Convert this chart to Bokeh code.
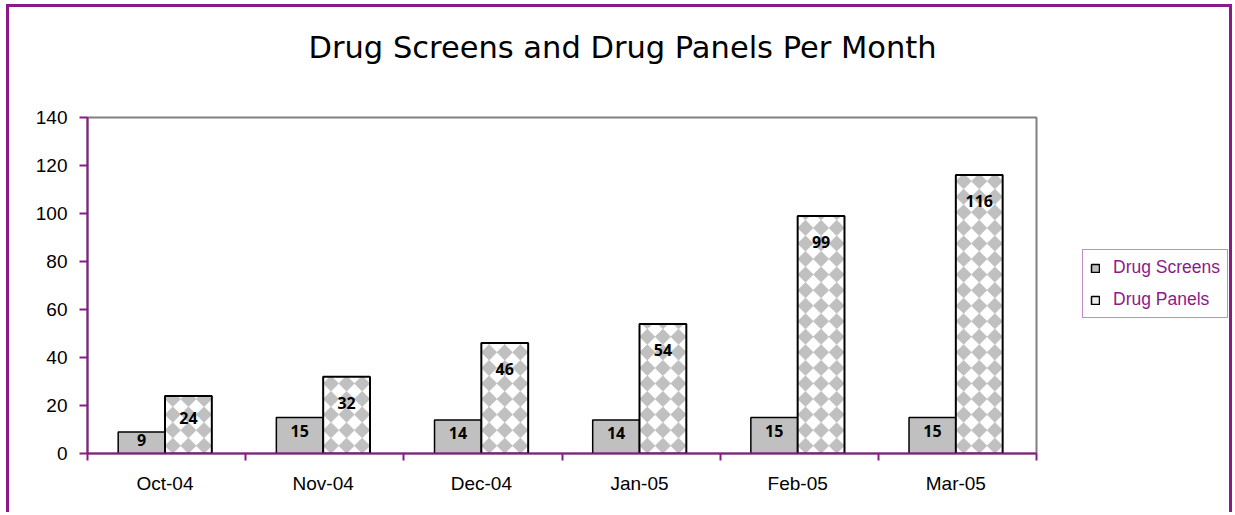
from bokeh.plotting import figure
from bokeh.layouts import row
from bokeh.models import (ColumnDataSource, FixedTicker, Legend, LegendItem, Range1d, Title)
from bokeh.core.properties import value
from bokeh.embed import file_html
from bokeh.resources import INLINE

# Monthly counts
months = ["Oct-04", "Nov-04", "Dec-04", "Jan-05", "Feb-05", "Mar-05"]
drug_screens = [9, 15, 14, 14, 15, 15]
drug_panels = [24, 32, 46, 54, 99, 116]
y_ticks = [0, 20, 40, 60, 80, 100, 120, 140]

PURPLE = "#8B1A89"
GREY = "#C0C0C0"
BAR_W = 0.296
Y_MAX = 140
EDGE = f"3px solid {PURPLE}"

# chart geometry in pixels
FRAME_W, FRAME_H = 949, 337
BORDER_L, BORDER_R, BORDER_T, BORDER_B = 78, 10, 109, 62
CHART_W = BORDER_L + FRAME_W + BORDER_R
CHART_H = BORDER_T + FRAME_H + BORDER_B
KEY_W = 189

centers = [i + 0.49 for i in range(len(months))]
screens_x = [c - BAR_W / 2 for c in centers]
panels_x = [c + BAR_W / 2 for c in centers]


def label_y(v):
    # value labels sit inside the top of each bar
    return max(v - 10.8, v * 0.62)


def clip_rect(poly, x0, x1, y0, y1):
    """Sutherland-Hodgman clip of a convex polygon to a rectangle."""
    def ix(xc):
        return lambda a, b: (xc, a[1] + (b[1] - a[1]) * (xc - a[0]) / (b[0] - a[0]))

    def iy(yc):
        return lambda a, b: (a[0] + (b[0] - a[0]) * (yc - a[1]) / (b[1] - a[1]), yc)

    edges = [(lambda q: q[0] >= x0, ix(x0)), (lambda q: q[0] <= x1, ix(x1)),
             (lambda q: q[1] >= y0, iy(y0)), (lambda q: q[1] <= y1, iy(y1))]
    pts = poly
    for inside, inter in edges:
        if not pts:
            break
        out = []
        for i in range(len(pts)):
            cur, prev = pts[i], pts[i - 1]
            if inside(cur):
                if not inside(prev):
                    out.append(inter(prev, cur))
                out.append(cur)
            elif inside(prev):
                out.append(inter(prev, cur))
        pts = out
    return pts


def checker_patches(xs, tops, width):
    """Grey diamond checker filling each bar, clipped to the bar outline."""
    dx = width / 3
    px_per_x = FRAME_W / len(months)
    dy = dx * px_per_x / (FRAME_H / Y_MAX)
    pxs, pys = [], []
    for xc, top in zip(xs, tops):
        x0, x1 = xc - width / 2, xc + width / 2
        j = 0
        while j * dy < top:
            cy = (j + 0.5) * dy
            for k in range(3):
                cx = x0 + (k + 0.5) * dx
                d = [(cx, cy - dy / 2), (cx + dx / 2, cy), (cx, cy + dy / 2), (cx - dx / 2, cy)]
                c = clip_rect(d, x0, x1, 0, top)
                if len(c) >= 3:
                    pxs.append([q[0] for q in c])
                    pys.append([q[1] for q in c])
            j += 1
    return pxs, pys


src_screens = ColumnDataSource(dict(x=screens_x, top=drug_screens,
                                    ly=[label_y(v) for v in drug_screens],
                                    txt=[str(v) for v in drug_screens]))
src_panels = ColumnDataSource(dict(x=panels_x, top=drug_panels,
                                   ly=[label_y(v) for v in drug_panels],
                                   txt=[str(v) for v in drug_panels]))

p = figure(width=CHART_W, height=CHART_H, output_backend="svg", toolbar_location=None,
           x_range=Range1d(0, len(months)), y_range=Range1d(0, Y_MAX),
           min_border_left=BORDER_L, min_border_right=BORDER_R,
           min_border_top=BORDER_T, min_border_bottom=BORDER_B)
p.title = None
p.styles = {"border-left": EDGE, "border-top": EDGE}
p.background_fill_color = "white"
p.border_fill_color = "white"
p.outline_line_color = "#808080"
p.outline_line_width = 2
p.xgrid.visible = False
p.ygrid.visible = False

# heading, held clear of the plot area by an empty spacer line
p.add_layout(Title(text=" ", text_font_size="1px", standoff=30), "above")
p.add_layout(Title(text="Drug Screens and Drug Panels Per Month", align="left",
                   offset=221, standoff=40, text_font="DejaVu Sans",
                   text_font_size="30.5px", text_font_style="normal",
                   text_color="black"), "above")

r_screens = p.vbar(x="x", top="top", bottom=0, width=BAR_W, source=src_screens,
                   fill_color=GREY, line_color="black", line_width=1.5)
p.vbar(x="x", top="top", bottom=0, width=BAR_W, source=src_panels,
       fill_color="white", line_color=None)
chk_x, chk_y = checker_patches(panels_x, drug_panels, BAR_W)
p.patches(chk_x, chk_y, fill_color=GREY, line_color=GREY, line_width=0.5)
p.vbar(x="x", top="top", bottom=0, width=BAR_W, source=src_panels,
       fill_color=None, line_color="black", line_width=2)

for src in (src_screens, src_panels):
    p.text(x="x", y="ly", text="txt", source=src, text_align="center",
           text_baseline="middle", text_font=value("Noto Sans"),
           text_font_size="16px", text_font_style="bold", text_color="black")

# y axis
p.yaxis.ticker = FixedTicker(ticks=y_ticks)
p.yaxis.axis_line_color = PURPLE
p.yaxis.axis_line_width = 2
p.yaxis.major_tick_line_color = PURPLE
p.yaxis.major_tick_line_width = 2
p.yaxis.major_tick_out = 8
p.yaxis.major_tick_in = 0
p.yaxis.minor_tick_line_color = None
p.yaxis.major_label_standoff = 12
p.yaxis.major_label_text_font = "Liberation Sans"
p.yaxis.major_label_text_font_size = "19px"
p.yaxis.major_label_text_color = "black"

# x axis: month names centred, ticks on the boundaries between months
p.xaxis.ticker = FixedTicker(ticks=centers, minor_ticks=list(range(len(months) + 1)))
p.xaxis.major_label_overrides = {c: m for c, m in zip(centers, months)}
p.xaxis.axis_line_color = PURPLE
p.xaxis.axis_line_width = 2
p.xaxis.major_tick_line_color = None
p.xaxis.minor_tick_line_color = PURPLE
p.xaxis.minor_tick_line_width = 2
p.xaxis.minor_tick_out = 7
p.xaxis.minor_tick_in = 0
p.xaxis.major_label_standoff = 12
p.xaxis.major_label_text_font = "Liberation Sans"
p.xaxis.major_label_text_font_size = "19px"
p.xaxis.major_label_text_color = "black"

# key panel to the right of the chart; its bars lie outside its view,
# so only the legend swatches show
k = figure(width=KEY_W, height=CHART_H, output_backend="svg", toolbar_location=None,
           x_axis_type=None, y_axis_type=None, x_range=Range1d(-3, -2),
           y_range=Range1d(0, Y_MAX), min_border=0, outline_line_color=None)
k.styles = {"border-right": EDGE, "border-top": EDGE}
k.background_fill_color = "white"
k.border_fill_color = "white"
key_screens = k.vbar(x="x", top="top", width=BAR_W, source=src_screens,
                     fill_color=GREY, line_color="black", line_width=1.5)
key_panels = k.vbar(x="x", top="top", width=BAR_W, source=src_panels,
                    fill_color="#EEEEEE", line_color="black", line_width=1.5)

legend = Legend(items=[LegendItem(label="Drug Screens", renderers=[key_screens]),
                       LegendItem(label="Drug Panels", renderers=[key_panels])],
                location=(39, 135), margin=0, padding=7, spacing=11,
                glyph_width=10, glyph_height=10, label_standoff=13,
                label_text_font="Liberation Sans", label_text_font_size="17.5px",
                label_text_color=PURPLE, border_line_color=PURPLE,
                border_line_width=1.5, background_fill_color="white",
                background_fill_alpha=1.0)
k.add_layout(legend, "center")

page = row(p, k)
page.margin = (4, 0, 0, 6)

open("out.html", "w").write(file_html(page, INLINE))
